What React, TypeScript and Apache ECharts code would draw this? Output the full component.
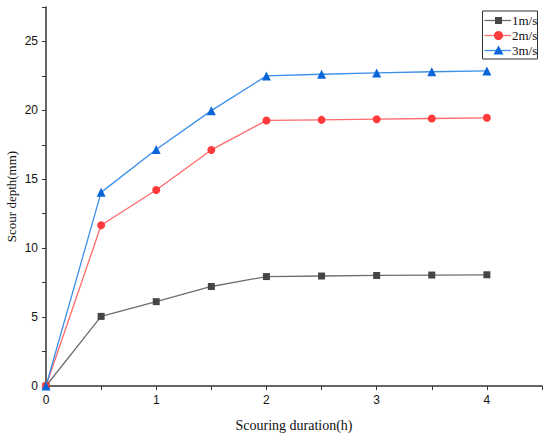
import React, { useEffect, useRef } from "react";
import * as echarts from "echarts";

const durations = [0, 0.5, 1, 1.5, 2, 2.5, 3, 3.5, 4];
const depth1 = [0, 5.05, 6.12, 7.22, 7.94, 7.98, 8.02, 8.05, 8.07];
const depth2 = [0, 11.66, 14.22, 17.13, 19.27, 19.31, 19.36, 19.41, 19.46];
const depth3 = [0, 14.05, 17.16, 19.98, 22.5, 22.62, 22.72, 22.8, 22.86];
const seriesNames = ["1m/s", "2m/s", "3m/s"];

const lineColors = ["#6e6e6e", "#ff6a6a", "#3d8fe8"];
const markColors = ["#454545", "#ff3a3a", "#0a66d8"];

const pairs = (ys: number[]) => durations.map((x, i) => [x, ys[i]]);

export default function App() {
  const ref = useRef<HTMLDivElement>(null);
  useEffect(() => {
    if (!ref.current) return;
    const chart = echarts.init(ref.current, null, { renderer: "svg" });
    const axisColor = "#333";
    const mk = (i: number, ys: number[], symbol: string, size: number) => ({
      name: seriesNames[i],
      type: "line",
      data: pairs(ys),
      symbol,
      symbolSize: size,
      showAllSymbol: true,
      lineStyle: { color: lineColors[i], width: 1.3 },
      itemStyle: { color: markColors[i] },
      z: 3,
    });

    // legend drawn as graphic for exact layout
    const lx = 482.5, ly = 11, lw = 55, lh = 48;
    const rows = [20.5, 35.5, 50.5];
    const legendEls: any[] = [
      { type: "rect", shape: { x: lx, y: ly, width: lw, height: lh }, style: { fill: "#fff", stroke: "#333", lineWidth: 1 }, z: 10 },
    ];
    rows.forEach((cy, i) => {
      legendEls.push({
        type: "line",
        shape: { x1: lx + 2, y1: cy, x2: lx + 28.5, y2: cy },
        style: { stroke: lineColors[i], lineWidth: 1.3 },
        z: 11,
      });
      const mx = lx + 16;
      if (i === 0) {
        legendEls.push({ type: "rect", shape: { x: mx - 3.5, y: cy - 3.5, width: 7, height: 7 }, style: { fill: markColors[i] }, z: 12 });
      } else if (i === 1) {
        legendEls.push({ type: "circle", shape: { cx: mx, cy, r: 4.5 }, style: { fill: markColors[i] }, z: 12 });
      } else {
        legendEls.push({
          type: "polygon",
          shape: { points: [[mx, cy - 5], [mx + 5, cy + 4], [mx - 5, cy + 4]] },
          style: { fill: markColors[i] },
          z: 12,
        });
      }
      legendEls.push({
        type: "text",
        x: lx + 29.5,
        y: cy,
        style: {
          text: seriesNames[i],
          fontFamily: "Liberation Serif",
          fontSize: 13,
          fill: "#111",
          verticalAlign: "middle",
          align: "left",
        },
        z: 12,
      });
    });

    chart.setOption({
      animation: false,
      backgroundColor: "#fff",
      grid: { left: 46, right: 8, top: 7, bottom: 51, containLabel: false, outerBoundsMode: "none" },
      graphic: legendEls,
      xAxis: {
        type: "value",
        min: 0,
        max: 4.5,
        interval: 1,
        name: "Scouring duration(h)",
        nameLocation: "middle",
        nameGap: 32,
        nameMoveOverlap: false,
        nameTextStyle: { fontFamily: "Liberation Serif", fontSize: 14, color: "#111" },
        axisLine: { show: true, onZero: false, lineStyle: { color: axisColor, width: 1.5 } },
        axisTick: { show: true, inside: false, length: 4, lineStyle: { color: axisColor } },
        minorTick: { show: true, splitNumber: 2, length: 4, lineStyle: { color: axisColor } },
        splitLine: { show: false },
        axisLabel: {
          fontFamily: "Liberation Sans",
          fontSize: 12,
          color: "#111",
          margin: 8,
          formatter: (v: number) => (v > 4 ? "" : String(v)),
        },
      },
      yAxis: {
        type: "value",
        min: 0,
        max: 27.5,
        interval: 5,
        name: "Scour depth(mm)",
        nameLocation: "middle",
        nameGap: 28,
        nameMoveOverlap: false,
        nameTextStyle: { fontFamily: "Liberation Serif", fontSize: 13, color: "#111" },
        axisLine: { show: true, lineStyle: { color: axisColor, width: 1.5 } },
        axisTick: { show: true, inside: false, length: 4, lineStyle: { color: axisColor } },
        minorTick: { show: true, splitNumber: 2, length: 4, lineStyle: { color: axisColor } },
        splitLine: { show: false },
        axisLabel: {
          fontFamily: "Liberation Sans",
          fontSize: 12,
          color: "#111",
          margin: 8,
          formatter: (v: number) => (v > 25 ? "" : String(v)),
        },
      },
      series: [
        mk(0, depth1, "rect", 7),
        mk(1, depth2, "circle", 8),
        mk(2, depth3, "triangle", 9),
      ],
    });
    return () => chart.dispose();
  }, []);
  return <div ref={ref} style={{ width: 550, height: 437, position: "absolute", left: 0, top: 0 }} />;
}
